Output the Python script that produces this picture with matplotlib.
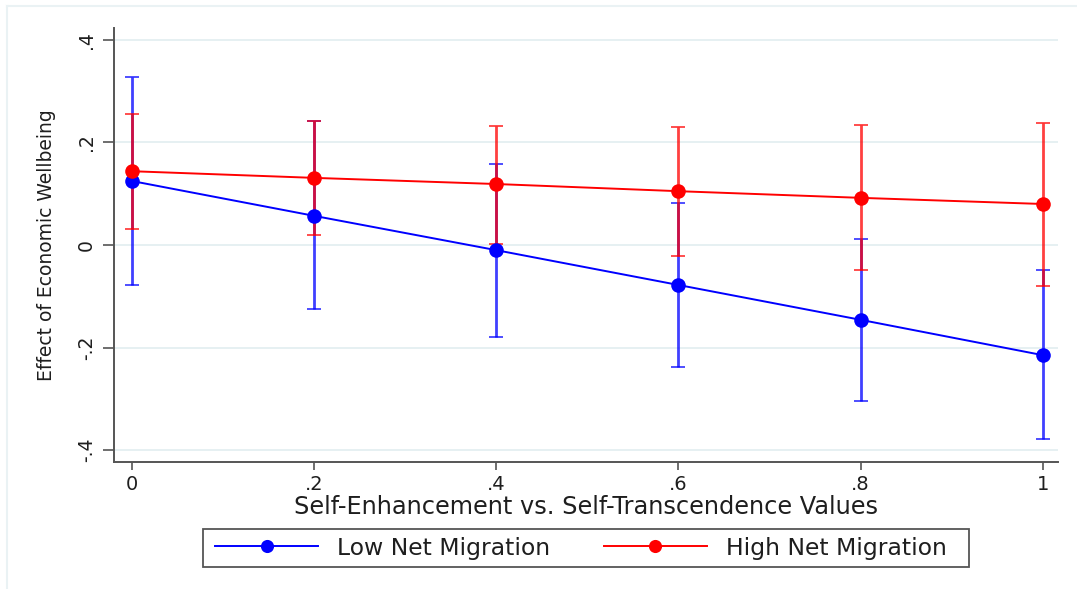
import matplotlib
matplotlib.use("Agg")
import matplotlib.pyplot as plt
from matplotlib.lines import Line2D
from matplotlib.patches import Rectangle
import numpy as np

# ---- data ----
x_vals = [0.0, 0.2, 0.4, 0.6, 0.8, 1.0]
x_ticklabels = ["0", ".2", ".4", ".6", ".8", "1"]
y_ticks = [-0.4, -0.2, 0.0, 0.2, 0.4]
y_ticklabels = ["-.4", "-.2", "0", ".2", ".4"]

low_est = [0.125, 0.057, -0.010, -0.078, -0.146, -0.215]
low_lo = [-0.078, -0.125, -0.179, -0.238, -0.304, -0.379]
low_hi = [0.328, 0.242, 0.158, 0.082, 0.012, -0.049]

high_est = [0.144, 0.131, 0.119, 0.105, 0.092, 0.080]
high_lo = [0.032, 0.020, 0.002, -0.021, -0.049, -0.080]
high_hi = [0.256, 0.242, 0.232, 0.230, 0.234, 0.238]

series_names = ["Low Net Migration", "High Net Migration"]
x_label = "Self-Enhancement vs. Self-Transcendence Values"
y_label = "Effect of Economic Wellbeing"

# ---- figure ----
W, H = 1077, 589
fig = plt.figure(figsize=(W / 100, H / 100), dpi=100)
plt.rcParams['font.family'] = ['DejaVu Sans']
txt_color = '#1e1e1e'
axis_color = '#555555'

left, right, top, bottom = 114, 1058, 28, 462
ax = fig.add_axes([left / W, 1 - bottom / H, (right - left) / W, (bottom - top) / H])

ax.set_xlim(-0.0192, 1.0165)
ax.set_ylim(-0.4234, 0.4234)

for s in ['top', 'right']:
    ax.spines[s].set_visible(False)
for s in ['left', 'bottom']:
    ax.spines[s].set_color(axis_color)
    ax.spines[s].set_linewidth(1.4)

ax.set_yticks(y_ticks)
ax.set_yticklabels(y_ticklabels, rotation=90, va='center', fontsize=13.5, color=txt_color)
ax.set_xticks(x_vals)
ax.set_xticklabels(x_ticklabels, fontsize=14, color=txt_color)
ax.tick_params(axis='y', length=8, width=1.2, color=axis_color, pad=5)
ax.tick_params(axis='x', length=6, width=1.2, color=axis_color, pad=3)

ax.yaxis.grid(True, color='#e6f0f2', linewidth=1.4)
ax.set_axisbelow(True)

blue = '#0000ff'
red = '#ff0000'

def err(est, lo, hi):
    e = np.array(est); l = np.array(lo); h = np.array(hi)
    return [e - l, h - e]

ax.errorbar(x_vals, low_est, yerr=err(low_est, low_lo, low_hi), fmt='none',
            ecolor=blue, elinewidth=2.0, capsize=4.7, capthick=1.3, alpha=0.75, zorder=2)
ax.errorbar(x_vals, high_est, yerr=err(high_est, high_lo, high_hi), fmt='none',
            ecolor=red, elinewidth=2.0, capsize=4.7, capthick=1.3, alpha=0.75, zorder=2)

l1, = ax.plot(x_vals, low_est, color=blue, lw=1.4, marker='o', ms=10.5,
              markeredgewidth=0, label=series_names[0], zorder=3)
l2, = ax.plot(x_vals, high_est, color=red, lw=1.4, marker='o', ms=10.5,
              markeredgewidth=0, label=series_names[1], zorder=4)

ax.set_xlabel(x_label, fontsize=17.3, color=txt_color, labelpad=1)
ax.set_ylabel(y_label, fontsize=13.5, color=txt_color, labelpad=15)

# legend box (frame drawn separately to match the wider Stata-style padding)
fig.add_artist(Rectangle((203 / W, 1 - 567 / H), 766 / W, 38 / H, transform=fig.transFigure,
                         fill=False, edgecolor=axis_color, linewidth=1.3))
leg = fig.legend(handles=[l1, l2], labels=series_names, loc='center left',
                 bbox_to_anchor=(215 / W, 1 - 548 / H), ncol=2, fontsize=16.9,
                 frameon=False, handlelength=4.39, handletextpad=0.8, columnspacing=2.3,
                 borderpad=0.0, borderaxespad=0.0, markerscale=0.9)
for t in leg.get_texts():
    t.set_color(txt_color)

# outer graph region frame (light)
fig.add_artist(Line2D([7 / W, 1.0], [1 - 6 / H, 1 - 6 / H], color='#eaf2f4', lw=1.5,
                      transform=fig.transFigure))
fig.add_artist(Line2D([7 / W, 7 / W], [0.0, 1 - 6 / H], color='#eaf2f4', lw=1.5,
                      transform=fig.transFigure))

fig.savefig("out.png", dpi=100, facecolor='white')
